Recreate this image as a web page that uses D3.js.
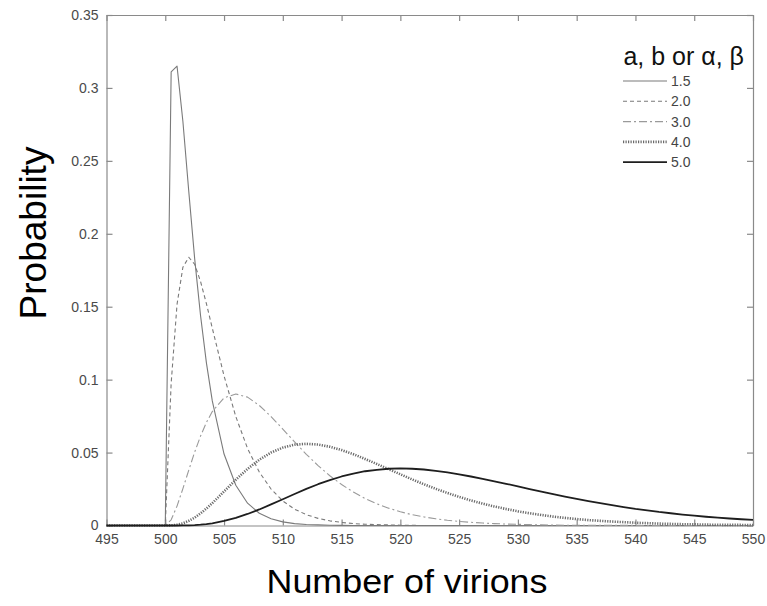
<!DOCTYPE html>
<html>
<head>
<meta charset="utf-8">
<script src="https://cdn.jsdelivr.net/npm/d3@7"></script>
<style>
    body { margin: 0; background: #fff; }
    svg { display: block; font-family: "Liberation Sans", Arial, sans-serif; }
</style>
</head>
<body>
<script>

var virions = [495, 500, 500.5, 501, 501.5, 502, 502.5, 503, 503.5, 504,
    505, 506, 507, 508, 509, 510, 511, 512, 513, 514,
    515, 516, 517, 518, 519, 520, 521, 522, 523, 524,
    525, 526, 527, 528, 529, 530, 531, 532, 533, 534,
    535, 536, 537, 538, 539, 540, 541, 542, 543, 544,
    545, 546, 547, 548, 549, 550];

var p15 = [0, 0, 0.311, 0.315, 0.277, 0.229, 0.183, 0.144, 0.1115, 0.0854,
    0.049, 0.0276, 0.0153, 0.0084, 0.0046, 0.0025, 0.0013, 0.0007, 0.0004, 0.0002,
    0.0001, 0, 0, 0, 0, 0, 0, 0, 0, 0,
    0, 0, 0, 0, 0, 0, 0, 0, 0, 0,
    0, 0, 0, 0, 0, 0, 0, 0, 0, 0,
    0, 0, 0, 0, 0, 0];

var p20 = [0, 0, 0.0974, 0.1516, 0.1771, 0.1839, 0.1791, 0.1673, 0.1521, 0.1353,
    0.1026, 0.0747, 0.0528, 0.0366, 0.0250, 0.0168, 0.0112, 0.0074, 0.0049, 0.0032,
    0.0021, 0.0013, 0.0009, 0.0006, 0.0004, 0.0002, 0.0001, 0, 0, 0,
    0, 0, 0, 0, 0, 0, 0, 0, 0, 0,
    0, 0, 0, 0, 0, 0, 0, 0, 0, 0,
    0, 0, 0, 0, 0, 0];

var p30 = [0, 0, 0.0039, 0.0133, 0.0253, 0.0380, 0.0503, 0.0613, 0.0706, 0.0781,
    0.0875, 0.0902, 0.0880, 0.0823, 0.0747, 0.0661, 0.0573, 0.0488, 0.0411, 0.0341,
    0.0281, 0.0229, 0.0185, 0.0149, 0.0119, 0.0094, 0.0074, 0.0059, 0.0046, 0.0036,
    0.0028, 0.0022, 0.0017, 0.0013, 0.0010, 0.0008, 0.0006, 0.0004, 0.0003, 0.0002,
    0.0002, 0.0001, 0.0001, 0.0001, 0.0001, 0.0001, 0, 0, 0, 0,
    0, 0, 0, 0, 0, 0];

var p40 = [0, 0, 0.0001, 0.0005, 0.0015, 0.0032, 0.0054, 0.0083, 0.0116, 0.0153,
    0.0233, 0.0314, 0.0388, 0.0451, 0.0500, 0.0534, 0.0554, 0.0560, 0.0555, 0.0540,
    0.0517, 0.0489, 0.0456, 0.0422, 0.0386, 0.0351, 0.0316, 0.0283, 0.0252, 0.0223,
    0.0196, 0.0172, 0.0150, 0.0130, 0.0113, 0.0097, 0.0084, 0.0072, 0.0061, 0.0052,
    0.0044, 0.0037, 0.0032, 0.0027, 0.0023, 0.0019, 0.0016, 0.0013, 0.0011, 0.0009,
    0.0008, 0.0006, 0.0005, 0.0004, 0.0004, 0.0003];

var p50 = [0, 0, 0, 0, 0.0001, 0.0001, 0.0003, 0.0006, 0.0010, 0.0015,
    0.0031, 0.0052, 0.0079, 0.0110, 0.0145, 0.0180, 0.0216, 0.0251, 0.0283, 0.0311,
    0.0336, 0.0356, 0.0372, 0.0382, 0.0389, 0.0391, 0.0389, 0.0384, 0.0375, 0.0364,
    0.0351, 0.0336, 0.0320, 0.0303, 0.0286, 0.0268, 0.0250, 0.0232, 0.0215, 0.0198,
    0.0182, 0.0167, 0.0153, 0.0139, 0.0126, 0.0114, 0.0104, 0.0093, 0.0084, 0.0075,
    0.0067, 0.0060, 0.0054, 0.0048, 0.0043, 0.0038];

var seriesNames = ["1.5", "2.0", "3.0", "4.0", "5.0"];
var seriesValues = [p15, p20, p30, p40, p50];

var xTicks = [495, 500, 505, 510, 515, 520, 525, 530, 535, 540, 545, 550];
var yTicks = [0, 0.05, 0.1, 0.15, 0.2, 0.25, 0.3, 0.35];
var yTickLabels = ["0", "0.05", "0.1", "0.15", "0.2", "0.25", "0.3", "0.35"];

// line look per series: colour, width, dash
var lineStyles = [
    {stroke: "#7a7a7a", width: 1.1, dash: null},
    {stroke: "#7a7a7a", width: 1.1, dash: "4,3"},
    {stroke: "#9a9a9a", width: 1.1, dash: "8,3,2,3"},
    {stroke: "#6a6a6a", width: 2.6, dash: "1.2,1.3"},
    {stroke: "#1e1e1e", width: 1.8, dash: null}
];

function drawChart(){
    var W = 767, H = 606;
    var left = 106.5, right = 753, top = 15, bottom = 525.5;

    var svg = d3.select("body").append("svg")
        .attr("width", W)
        .attr("height", H)
        .attr("viewBox", "0 0 " + W + " " + H);

    var x = d3.scaleLinear().domain([495, 550]).range([left, right]);
    var y = d3.scaleLinear().domain([0, 0.35]).range([bottom, top]);

    var axisColor = "#8a8a8a";
    var labelColor = "#4a4a4a";

    // bottom axis, ticks pointing in
    var xAxis = svg.append("g")
        .attr("transform", "translate(0," + bottom + ")")
        .call(d3.axisBottom(x).tickValues(xTicks).tickSizeInner(-6).tickSizeOuter(0).tickPadding(9));
    // top axis, ticks only
    var xAxisTop = svg.append("g")
        .attr("transform", "translate(0," + top + ")")
        .call(d3.axisTop(x).tickValues(xTicks).tickSizeInner(-6).tickSizeOuter(0).tickFormat(""));
    var yAxis = svg.append("g")
        .attr("transform", "translate(" + left + ",0)")
        .call(d3.axisLeft(y).tickValues(yTicks).tickSizeInner(-6).tickSizeOuter(0).tickPadding(8)
            .tickFormat(function(d, i){ return yTickLabels[i]; }));
    var yAxisRight = svg.append("g")
        .attr("transform", "translate(" + right + ",0)")
        .call(d3.axisRight(y).tickValues(yTicks).tickSizeInner(-6).tickSizeOuter(0).tickFormat(""));

    [xAxis, xAxisTop, yAxis, yAxisRight].forEach(function(a){
        a.selectAll("path").attr("stroke", axisColor).attr("stroke-width", 1.2);
        a.selectAll("line").attr("stroke", axisColor).attr("stroke-width", 1.2);
        a.selectAll("text")
            .attr("fill", labelColor)
            .style("font-size", "14px")
            .style("font-family", "'Liberation Sans', Arial, sans-serif");
    });

    // curves
    var line = d3.line()
        .x(function(d){ return x(d[0]); })
        .y(function(d){ return y(d[1]); });

    seriesValues.forEach(function(vals, i){
        var pts = virions.map(function(v, j){ return [v, vals[j]]; });
        var st = lineStyles[i];
        svg.append("path")
            .attr("id", "curve_" + i)
            .attr("d", line(pts))
            .attr("fill", "none")
            .attr("stroke", st.stroke)
            .attr("stroke-width", st.width)
            .attr("stroke-dasharray", st.dash)
            .attr("stroke-linejoin", "round");
    });

    // legend
    var lg = svg.append("g").attr("id", "legend");
    lg.append("text")
        .attr("x", 744)
        .attr("y", 65)
        .attr("text-anchor", "end")
        .attr("fill", "#111")
        .style("font-size", "25px")
        .text("a, b or \u03b1, \u03b2");

    seriesNames.forEach(function(name, i){
        var ly = 81 + i * 20.3;
        var st = lineStyles[i];
        lg.append("line")
            .attr("x1", 623).attr("x2", 667)
            .attr("y1", ly).attr("y2", ly)
            .attr("stroke", st.stroke)
            .attr("stroke-width", st.width)
            .attr("stroke-dasharray", st.dash);
        lg.append("text")
            .attr("x", 671)
            .attr("y", ly + 5)
            .attr("fill", "#444")
            .style("font-size", "14px")
            .text(name);
    });

    // axis titles
    svg.append("text")
        .attr("x", 407)
        .attr("y", 593)
        .attr("text-anchor", "middle")
        .attr("fill", "#000")
        .attr("textLength", 281)
        .attr("lengthAdjust", "spacingAndGlyphs")
        .style("font-size", "33px")
        .text("Number of virions");

    svg.append("text")
        .attr("transform", "translate(46," + 233 + ") rotate(-90)")
        .attr("text-anchor", "middle")
        .attr("fill", "#000")
        .style("font-size", "37px")
        .text("Probability");
}

drawChart();
</script>
</body>
</html>
